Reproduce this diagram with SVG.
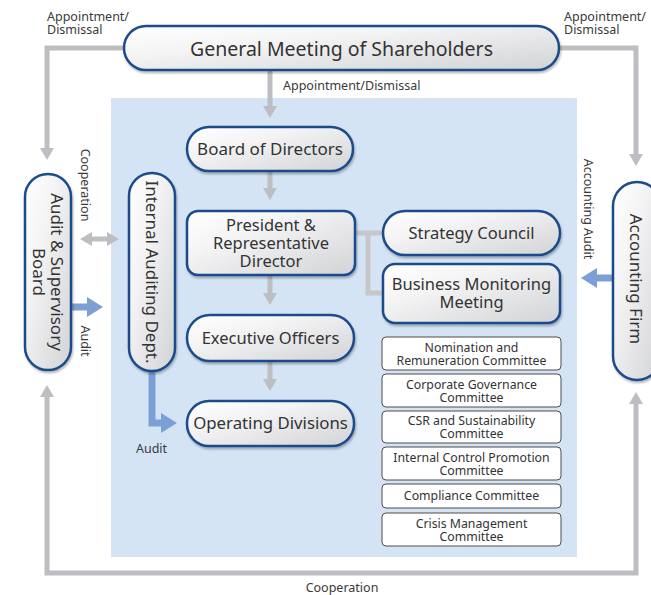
<svg xmlns="http://www.w3.org/2000/svg" width="651" height="595" viewBox="0 0 651 595">
  <defs>
    <linearGradient id="fillNode" x1="0" y1="0" x2="1" y2="1">
      <stop offset="0" stop-color="#ffffff"/>
      <stop offset="0.35" stop-color="#f4f4f5"/>
      <stop offset="1" stop-color="#d2d3d6"/>
    </linearGradient>
    <filter id="shadow" x="-10%" y="-20%" width="120%" height="150%">
      <feDropShadow dx="1" dy="2" stdDeviation="1.2" flood-color="#000" flood-opacity="0.28"/>
    </filter>
    <marker id="ahGray" markerUnits="userSpaceOnUse" markerWidth="14" markerHeight="16" viewBox="0 -8 14 16" refX="0" refY="0" orient="auto-start-reverse" overflow="visible">
      <path d="M0,-7 L12,0 L0,7 Z" fill="#bdbec2"/>
    </marker>
    <marker id="ahBlue" markerUnits="userSpaceOnUse" markerWidth="18" markerHeight="22" viewBox="0 -11 18 22" refX="0" refY="0" orient="auto-start-reverse" overflow="visible">
      <path d="M0,-10 L16,0 L0,10 Z" fill="#7c9fd6"/>
    </marker>
  </defs>
  <style>
    .node { fill: url(#fillNode); stroke: #1c4c8c; stroke-width: 2.5; filter: url(#shadow); }
    .cmt { fill: #ffffff; stroke: #4d4d4d; stroke-width: 1; }
    .lbl { font-family: "Noto Sans", "Open Sans", "Liberation Sans", sans-serif; fill: #333333; text-anchor: middle; }
    .big { font-size: 17px; }
    .sm { font-size: 12.5px; fill: #3a3a3a; }
    .cm { font-size: 12.3px; fill: #333333; }
    .gray { fill: none; stroke: #bdbec2; stroke-width: 5; }
    .link { fill: none; stroke: #c6c7ca; stroke-width: 5; }
    .blue { fill: none; stroke: #7c9fd6; stroke-width: 7; stroke-linejoin: miter; }
  </style>

  <!-- company-internal area -->
  <rect x="111" y="98" width="466" height="459" fill="#d4e4f4"/>

  <!-- connectors -->
  <g id="connectors">
    <path class="gray" d="M124 48 H47 V148" marker-end="url(#ahGray)"/>
    <path class="gray" d="M559 48 H636 V154" marker-end="url(#ahGray)"/>
    <path class="gray" d="M270 70 V106" marker-end="url(#ahGray)"/>
    <path class="gray" d="M270 171 V188" marker-end="url(#ahGray)"/>
    <path class="gray" d="M270 275 V293" marker-end="url(#ahGray)"/>
    <path class="gray" d="M270 361 V379" marker-end="url(#ahGray)"/>
    <path class="link" d="M355 233 H383 M368 233 V293 H383"/>
    <path class="gray" d="M92 239 H107" marker-start="url(#ahGray)" marker-end="url(#ahGray)"/>
    <path class="gray" d="M47 397 V573 H636 V404" marker-start="url(#ahGray)" marker-end="url(#ahGray)"/>
    <path class="blue" d="M71 307 H87" marker-end="url(#ahBlue)"/>
    <path class="blue" d="M152 371 V423 H161" marker-end="url(#ahBlue)"/>
    <path class="blue" d="M613 278 H597" marker-end="url(#ahBlue)"/>
  </g>

  <!-- connector labels -->
  <g id="edge-labels" class="lbl sm">
    <text x="47" y="21" text-anchor="start">Appointment/</text>
    <text x="47" y="34" text-anchor="start">Dismissal</text>
    <text x="564" y="21" text-anchor="start">Appointment/</text>
    <text x="564" y="34" text-anchor="start">Dismissal</text>
    <text x="283" y="90" text-anchor="start">Appointment/Dismissal</text>
    <text x="86" y="190" transform="rotate(90 86 185)">Cooperation</text>
    <text x="86" y="346" transform="rotate(90 86 341)">Audit</text>
    <text x="589" y="214" transform="rotate(90 589 209)">Accounting Audit</text>
    <text x="342" y="592">Cooperation</text>
    <text x="151.5" y="453">Audit</text>
  </g>

  <g id="general-meeting">
    <rect class="node" x="124" y="26" width="435" height="44" rx="22"/>
    <text class="lbl" x="341.5" y="56" font-size="19.5">General Meeting of Shareholders</text>
  </g>

  <g id="board-of-directors">
    <rect class="node" x="187" y="127" width="166" height="44" rx="22"/>
    <text class="lbl big" x="270" y="155">Board of Directors</text>
  </g>

  <g id="president">
    <rect class="node" x="187" y="211" width="168" height="64" rx="11"/>
    <text class="lbl" x="271" y="231" font-size="16.5">President &amp;</text>
    <text class="lbl" x="271" y="249" font-size="16.5">Representative</text>
    <text class="lbl" x="271" y="267" font-size="16.5">Director</text>
  </g>

  <g id="strategy-council">
    <rect class="node" x="383" y="211" width="177" height="44" rx="22"/>
    <text class="lbl" x="471.5" y="239" font-size="16.5">Strategy Council</text>
  </g>

  <g id="business-monitoring">
    <rect class="node" x="383" y="264" width="177" height="59" rx="12"/>
    <text class="lbl" x="471.5" y="290" font-size="16.5">Business Monitoring</text>
    <text class="lbl" x="471.5" y="308" font-size="16.5">Meeting</text>
  </g>

  <g id="executive-officers">
    <rect class="node" x="187" y="315" width="167" height="46" rx="23"/>
    <text class="lbl" x="270.5" y="344" font-size="16.5">Executive Officers</text>
  </g>

  <g id="operating-divisions">
    <rect class="node" x="187" y="401" width="167" height="45" rx="22"/>
    <text class="lbl" x="270.5" y="429" font-size="16.8">Operating Divisions</text>
  </g>

  <g id="internal-auditing">
    <rect class="node" x="129" y="173" width="46" height="198" rx="23"/>
    <text class="lbl big" x="152" y="278" transform="rotate(90 152 272)">Internal Auditing Dept.</text>
  </g>

  <g id="audit-supervisory-board">
    <rect class="node" x="25" y="174" width="46" height="196" rx="23"/>
    <text class="lbl big" x="48" y="269" transform="rotate(90 48 272)">Audit &amp; Supervisory</text>
    <text class="lbl big" x="48" y="287" transform="rotate(90 48 272)">Board</text>
  </g>

  <g id="accounting-firm">
    <rect class="node" x="613" y="182" width="48" height="198" rx="24"/>
    <text class="lbl big" x="636" y="285" transform="rotate(90 636 279)">Accounting Firm</text>
  </g>

  <g id="committee-nomination">
    <rect class="cmt" x="382" y="337" width="179" height="33" rx="4"/>
    <text class="lbl cm" x="471.5" y="352">Nomination and</text>
    <text class="lbl cm" x="471.5" y="365">Remuneration Committee</text>
  </g>
  <g id="committee-governance">
    <rect class="cmt" x="382" y="374" width="179" height="33" rx="4"/>
    <text class="lbl cm" x="471.5" y="389">Corporate Governance</text>
    <text class="lbl cm" x="471.5" y="402">Committee</text>
  </g>
  <g id="committee-csr">
    <rect class="cmt" x="382" y="411" width="179" height="32" rx="4"/>
    <text class="lbl cm" x="471.5" y="425">CSR and Sustainability</text>
    <text class="lbl cm" x="471.5" y="438">Committee</text>
  </g>
  <g id="committee-internal-control">
    <rect class="cmt" x="382" y="447" width="179" height="33" rx="4"/>
    <text class="lbl cm" x="471.5" y="462">Internal Control Promotion</text>
    <text class="lbl cm" x="471.5" y="475">Committee</text>
  </g>
  <g id="committee-compliance">
    <rect class="cmt" x="382" y="484" width="179" height="24" rx="4"/>
    <text class="lbl cm" x="471.5" y="500">Compliance Committee</text>
  </g>
  <g id="committee-crisis">
    <rect class="cmt" x="382" y="513" width="179" height="33" rx="4"/>
    <text class="lbl cm" x="471.5" y="528">Crisis Management</text>
    <text class="lbl cm" x="471.5" y="541">Committee</text>
  </g>
</svg>
